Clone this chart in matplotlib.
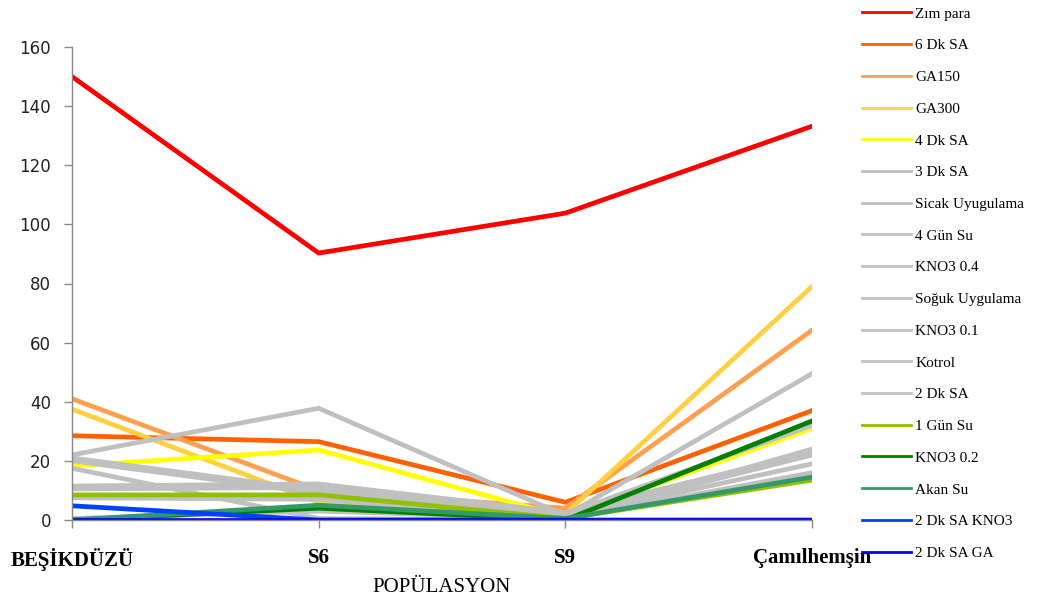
import matplotlib
matplotlib.use("Agg")
import matplotlib.pyplot as plt

# populations along the x axis
populations = ["BEŞİKDÜZÜ", "S6", "S9", "Çamılhemşin"]

# treatment series (values per population)
zimpara = [150.0, 90.3, 103.8, 133.2]
dk6_sa = [28.5, 26.5, 6.0, 37.0]
ga150 = [41.0, 10.0, 4.0, 64.2]
ga300 = [37.5, 6.0, 2.0, 79.0]
dk4_sa = [18.3, 23.7, 1.0, 31.0]
dk3_sa = [22.0, 37.8, 1.5, 49.5]
sicak = [21.0, 10.0, 2.0, 32.0]
gun4_su = [17.5, 0.5, 0.0, 24.0]
kno3_04 = [11.5, 12.2, 2.5, 23.0]
soguk = [10.5, 11.0, 1.0, 19.0]
kno3_01 = [7.5, 7.0, 0.5, 15.0]
kotrol = [0.5, 3.0, 0.5, 16.0]
dk2_sa = [20.0, 9.0, 1.0, 22.0]
gun1_su = [8.5, 8.5, 0.5, 13.5]
kno3_02 = [0.0, 4.0, 0.0, 33.5]
akan_su = [0.0, 5.0, 0.5, 14.5]
dk2_sa_kno3 = [4.8, 0.0, 0.0, 0.0]
dk2_sa_ga = [0.0, 0.0, 0.0, 0.0]

series = [
    ("Zım para", zimpara, "#ff0000"),
    ("6 Dk SA", dk6_sa, "#ff6000"),
    ("GA150", ga150, "#ffa050"),
    ("GA300", ga300, "#ffd040"),
    ("4 Dk SA", dk4_sa, "#ffff00"),
    ("3 Dk SA", dk3_sa, "#c0c0c0"),
    ("Sicak Uyugulama", sicak, "#c0c0c0"),
    ("4 Gün Su", gun4_su, "#c0c0c0"),
    ("KNO3 0.4", kno3_04, "#c0c0c0"),
    ("Soğuk Uygulama", soguk, "#c0c0c0"),
    ("KNO3 0.1", kno3_01, "#c0c0c0"),
    ("Kotrol", kotrol, "#c0c0c0"),
    ("2 Dk SA", dk2_sa, "#c0c0c0"),
    ("1 Gün Su", gun1_su, "#90c000"),
    ("KNO3 0.2", kno3_02, "#008000"),
    ("Akan Su", akan_su, "#339966"),
    ("2 Dk SA KNO3", dk2_sa_kno3, "#0040ff"),
    ("2 Dk SA GA", dk2_sa_ga, "#0000ff"),
]

fig = plt.figure(figsize=(10.41, 6.01), dpi=100)
ax = fig.add_axes([72 / 1041, 81 / 601, 740 / 1041, 473 / 601])

x = list(range(len(populations)))
for name, vals, color in series:
    ax.plot(x, vals, color=color, linewidth=3.4, solid_joinstyle="miter")

ax.set_xlim(0, len(populations) - 1)
ax.set_ylim(0, 160)
ax.set_yticks(range(0, 161, 20))
ax.set_xticks(x)
ax.set_xticklabels(populations, family="Liberation Serif", fontweight="bold",
                   fontsize=15)
ax.tick_params(axis="x", direction="out", length=6, width=1, color="#888888",
               pad=14)
ax.tick_params(axis="y", direction="out", length=6, width=1, color="#888888",
               pad=9, labelsize=12, labelcolor="#222222")
ax.set_xlabel("POPÜLASYON", family="Liberation Serif", fontsize=15, labelpad=5.5)

for side in ("top", "right"):
    ax.spines[side].set_visible(False)
for side in ("left", "bottom"):
    ax.spines[side].set_color("#888888")
    ax.spines[side].set_linewidth(1)
ax.patch.set_visible(False)

# legend lines are thinner than the plotted series
legend_lines = [plt.Line2D([], [], color=c, linewidth=2) for _, _, c in series]
fig.legend(legend_lines, [n for n, _, _ in series],
           loc="upper left", bbox_to_anchor=(862 / 1041, 1 - 7 / 601),
           frameon=False, borderpad=0, borderaxespad=0,
           prop={"family": "Liberation Serif", "size": 11},
           handlelength=3.2, handletextpad=0.3, labelspacing=1.18)

fig.savefig("out.png", dpi=100)
